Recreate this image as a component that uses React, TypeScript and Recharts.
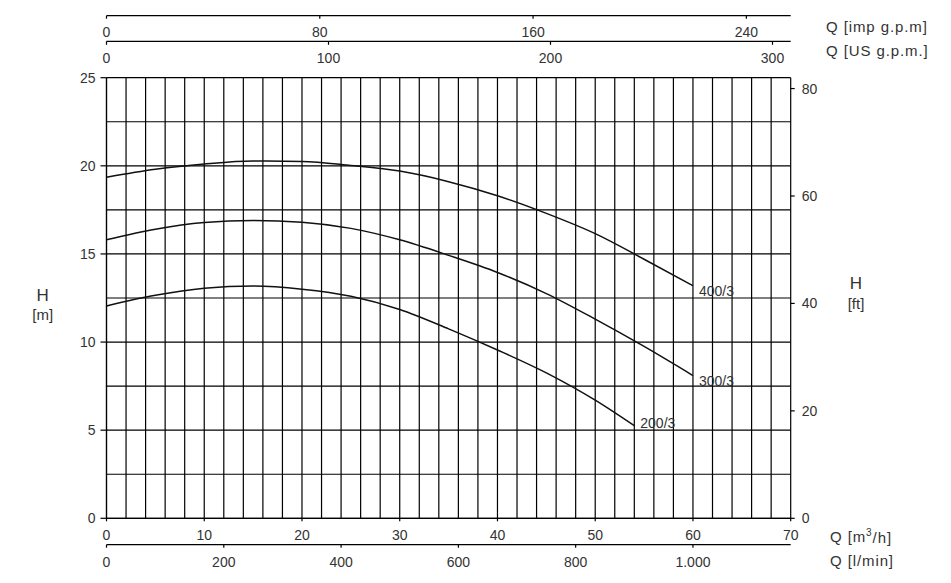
import React from "react";
import { LineChart, Line, XAxis, YAxis, CartesianGrid } from "recharts";

// pump curves (Q in m3/h, H in m)
const Q_400 = [0, 5, 10, 15, 20, 25, 30, 35, 40, 45, 50, 55, 60];
const H_400 = [19.35, 19.8, 20.1, 20.27, 20.25, 20.02, 19.7, 19.1, 18.3, 17.3, 16.15, 14.7, 13.2];

const Q_300 = [0, 5, 10, 15, 20, 25, 30, 35, 40, 45, 50, 55, 60];
const H_300 = [15.8, 16.4, 16.78, 16.9, 16.8, 16.45, 15.8, 14.92, 13.95, 12.75, 11.3, 9.75, 8.1];

const Q_200 = [0, 5, 10, 15, 20, 25, 30, 35, 40, 45, 50, 54];
const H_200 = [12.05, 12.65, 13.05, 13.18, 13.0, 12.6, 11.85, 10.75, 9.55, 8.25, 6.7, 5.25];

const CURVE_NAMES = ["400/3", "300/3", "200/3"];

// axis ticks
const Q_TICKS = [0, 10, 20, 30, 40, 50, 60, 70];
const Q_GRID = [0, 2, 4, 6, 8, 10, 12, 14, 16, 18, 20, 22, 24, 26, 28, 30, 32, 34, 36, 38, 40, 42, 44, 46, 48, 50, 52, 54, 56, 58, 60, 62, 64, 66, 68, 70];
const LMIN_TICKS = [0, 200, 400, 600, 800, 1000];
const IMP_TICKS = [0, 80, 160, 240];
const US_TICKS = [0, 100, 200, 300];
const H_TICKS = [0, 5, 10, 15, 20, 25];
const H_GRID = [0, 2.5, 5, 7.5, 10, 12.5, 15, 17.5, 20, 22.5, 25];
const FT_TICKS = [0, 20, 40, 60, 80];

// unit conversions for the secondary scales
const toLmin = (q: number) => (q * 1000) / 60;
const toImp = (q: number) => toLmin(q) / 4.54609;
const toUs = (q: number) => toLmin(q) / 3.78541;
const Q_MAX = 70;
const H_MAX = 25;
const FT_MAX = H_MAX / 0.3048;

// one table keyed by Q, so every axis sees the same rows
const KEYS = ["h400", "h300", "h200"];
const CURVES: [number[], number[]][] = [
  [Q_400, H_400],
  [Q_300, H_300],
  [Q_200, H_200],
];
const allQ = Array.from(new Set(CURVES.flatMap(([qs]) => qs))).sort((a, b) => a - b);
const tableData = allQ.map((q) => {
  const row: Record<string, number | undefined> = { q, lmin: toLmin(q), imp: toImp(q), us: toUs(q) };
  CURVES.forEach(([qs, hs], i) => {
    const j = qs.indexOf(q);
    row[KEYS[i]] = j >= 0 ? hs[j] : undefined;
  });
  return row;
});
const lastQ = CURVES.map(([qs]) => qs[qs.length - 1]);

const LABEL_DY = [5, 5, -3];
const INK = "#000";
const TEXT = "#333";
const tickStyle = { fill: TEXT, fontSize: 14 };
const lineStyle = { stroke: INK, strokeWidth: 1.2 };

const fmtLmin = (v: number) => (v === 1000 ? "1.000" : String(v));

export default function App() {
  return (
    <div
      style={{
        position: "absolute",
        left: 0,
        top: 0,
        width: 951,
        height: 583,
        background: "#fff",
        fontFamily: "'Liberation Sans', Arial, sans-serif",
      }}
    >
      <LineChart
        width={951}
        height={583}
        data={tableData}
        margin={{ top: 5.7, right: 120.3, bottom: 8.3, left: 60 }}
      >
        {/* axes that only carry the fine grid */}
        <XAxis xAxisId="zgridX" dataKey="q" type="number" domain={[0, Q_MAX]} ticks={Q_GRID} interval={0} allowDataOverflow hide height={0} />
        <YAxis yAxisId="zgridY" type="number" domain={[0, H_MAX]} ticks={H_GRID} interval={0} allowDataOverflow hide width={0} />
        <CartesianGrid xAxisId="zgridX" yAxisId="zgridY" stroke={INK} strokeWidth={1.2} />

        <XAxis
          xAxisId="b1q"
          dataKey="q"
          type="number"
          domain={[0, Q_MAX]}
          ticks={Q_TICKS}
          interval={0}
          allowDataOverflow
          height={26.4}
          tickSize={3}
          tickMargin={9}
          tick={tickStyle}
          axisLine={lineStyle}
          tickLine={lineStyle}
        />
        <XAxis
          xAxisId="b2lmin"
          dataKey="lmin"
          type="number"
          domain={[0, toLmin(Q_MAX)]}
          ticks={LMIN_TICKS}
          interval={0}
          allowDataOverflow
          height={30}
          tickSize={3}
          tickMargin={9}
          tick={tickStyle}
          tickFormatter={fmtLmin}
          axisLine={lineStyle}
          tickLine={lineStyle}
        />

        <XAxis
          xAxisId="t1spacer"
          dataKey="q"
          orientation="top"
          type="number"
          domain={[0, Q_MAX]}
          allowDataOverflow
          height={36.4}
          axisLine={false}
          tickLine={false}
          tick={false}
        />
        <XAxis
          xAxisId="t2us"
          dataKey="us"
          orientation="top"
          type="number"
          domain={[0, toUs(Q_MAX)]}
          ticks={US_TICKS}
          interval={0}
          allowDataOverflow
          height={25.6}
          tickSize={-3.5}
          tickMargin={-18.5}
          tick={tickStyle}
          axisLine={lineStyle}
          tickLine={lineStyle}
        />
        <XAxis
          xAxisId="t3imp"
          dataKey="imp"
          orientation="top"
          type="number"
          domain={[0, toImp(Q_MAX)]}
          ticks={IMP_TICKS}
          interval={0}
          allowDataOverflow
          height={10}
          tickSize={-3}
          tickMargin={-18.6}
          tick={tickStyle}
          axisLine={lineStyle}
          tickLine={lineStyle}
        />

        <YAxis
          yAxisId="l1h"
          type="number"
          domain={[0, H_MAX]}
          ticks={H_TICKS}
          interval={0}
          allowDataOverflow
          width={46.5}
          tickSize={6}
          tickMargin={5}
          tick={tickStyle}
          axisLine={lineStyle}
          tickLine={lineStyle}
        />
        <YAxis
          yAxisId="r1ft"
          orientation="right"
          type="number"
          domain={[0, FT_MAX]}
          ticks={FT_TICKS}
          interval={0}
          allowDataOverflow
          width={40}
          tickSize={4}
          tickMargin={7}
          tick={tickStyle}
          axisLine={false}
          tickLine={lineStyle}
        />

        {KEYS.map((key, i) => (
          <Line
            key={key}
            xAxisId="b1q"
            yAxisId="l1h"
            dataKey={key}
            type="monotone"
            connectNulls
            stroke="#111"
            strokeWidth={1.5}
            dot={false}
            isAnimationActive={false}
            label={(p: any) =>
              tableData[p.index] && tableData[p.index].q === lastQ[i] ? (
                <text
                  key={`${key}-lab`}
                  x={p.x + 6}
                  y={p.y + LABEL_DY[i]}
                  fill={TEXT}
                  fontSize={14}
                  dominantBaseline="central"
                >
                  {CURVE_NAMES[i]}
                </text>
              ) : (
                <g key={`${key}-${p.index}`} />
              )
            }
          />
        ))}
      </LineChart>

      <svg width={951} height={583} style={{ position: "absolute", left: 0, top: 0, pointerEvents: "none" }}>
        <g fill={TEXT} fontSize={15} letterSpacing={0.9} dominantBaseline="central">
          <text x={826} y={26.7}>Q [imp g.p.m]</text>
          <text x={826} y={50}>Q [US g.p.m.]</text>
          <text x={830} y={536.7}>
            Q [m<tspan dy={-5} fontSize={10}>3</tspan>
            <tspan dy={5}>/h]</tspan>
          </text>
          <text x={830} y={560}>Q [l/min]</text>
        </g>
        <g fill={TEXT} textAnchor="middle" dominantBaseline="central">
          <text x={42.7} y={295} fontSize={17}>H</text>
          <text x={42.7} y={314} fontSize={15}>[m]</text>
          <text x={856} y={283} fontSize={17}>H</text>
          <text x={856} y={303} fontSize={15}>[ft]</text>
        </g>
      </svg>
    </div>
  );
}
